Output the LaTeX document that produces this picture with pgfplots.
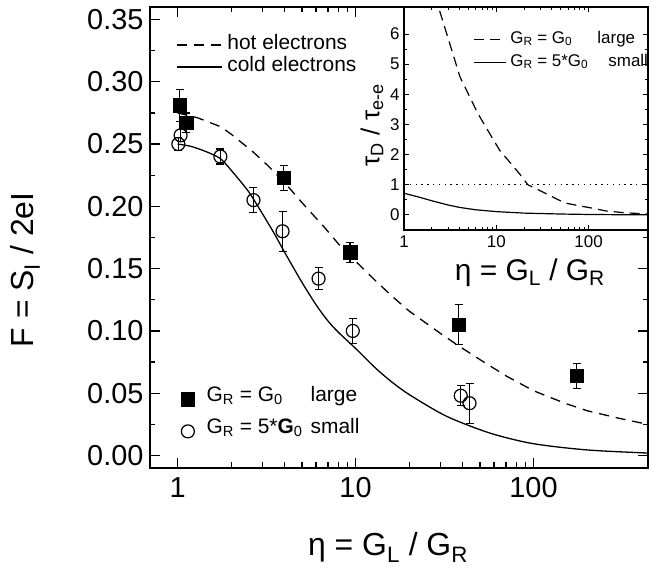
\documentclass[border=0pt]{standalone}
\usepackage{fontspec}
\setmainfont{Liberation Sans}
\usepackage{pgfplots}
\pgfplotsset{compat=1.18}

\newcommand{\fs}[1]{\fontsize{#1}{#1}\selectfont}

\begin{document}
\begin{tikzpicture}
% main axis: curves + data points
\begin{axis}[
    name=main,
    at={(0,0)}, anchor=south west,
    scale only axis,
    width=498bp, height=461bp,
    xmode=log,
    xmin=0.7, xmax=440,
    ymin=-0.01, ymax=0.36,
    xtick={1,10,100}, xticklabels={1,10,100},
    ytick={0,0.05,0.10,0.15,0.20,0.25,0.30,0.35},
    yticklabels={0.00,0.05,0.10,0.15,0.20,0.25,0.30,0.35},
    minor y tick num=1,
    tick align=inside,
    major tick length=10bp, minor tick length=5.5bp,
    axis line style={line width=1.6bp},
    every tick/.style={line width=1.2bp, black},
    /pgf/number format/assume math mode=true,
    tick label style={font=\fs{29}},
    xticklabel style={yshift=-6bp},
    yticklabel style={xshift=-3bp},
    label style={font=\fs{32}},
    xlabel={η = G\textsubscript{L} / G\textsubscript{R}},
    ylabel={F = S\textsubscript{I} / 2eI},
    xlabel style={at={(axis description cs:0.478,-0.172)}, anchor=center},
    ylabel style={at={(axis description cs:-0.251,0.43)}, anchor=center},
    legend style={draw=none, fill=none, at={(axis description cs:0.052,0.942)},
        anchor=north west, inner sep=0pt, font=\fs{21},
        nodes={inner xsep=0pt, inner ysep=1.5bp, text height=14.5bp, text depth=4.5bp},
        /tikz/every odd column/.append style={column sep=5bp}},
    legend cell align=left,
    legend image code/.code={\draw[#1] (0bp,0bp) -- (45bp,0bp);},
]
\addplot[black, line width=1.3bp, dash pattern=on 10bp off 7bp] coordinates {
    (1,0.275) (1.3,0.271) (1.74,0.264) (2,0.258) (2.64,0.244) (3.2,0.233)
    (4,0.219) (5,0.203) (6.7,0.183) (8,0.170) (10,0.156) (12.8,0.141)
    (16,0.128) (20,0.116) (30,0.098) (38,0.088) (50,0.077) (70,0.064)
    (100,0.052) (150,0.042) (200,0.036) (300,0.030) (440,0.025)
};
\addlegendentry{hot electrons}
\addplot[black, line width=1.3bp, smooth] coordinates {
    (1,0.250) (1.2,0.248) (1.5,0.243) (1.75,0.238) (2,0.229) (2.5,0.212)
    (3,0.194) (3.5,0.178) (4,0.163) (5,0.139) (6,0.121) (7,0.108)
    (8,0.099) (10,0.086) (13,0.070) (16,0.059) (20,0.049) (30,0.034)
    (40,0.026) (60,0.017) (100,0.0095) (200,0.0045) (440,0.002)
};
\addlegendentry{cold electrons}
% G_R = G_0 (large)
\addplot[forget plot, only marks, black, mark=square*, mark size=6.8bp,
    error bars/.cd, y dir=both, y explicit,
    error bar style={line width=1.2bp, black},
    error mark options={black, line width=1.2bp, mark size=4bp, rotate=90}]
    coordinates {
    (1.03,0.281) +- (0,0.013)
    (1.12,0.267) +- (0,0.008)
    (3.94,0.223) +- (0,0.010)
    (9.3,0.163) +- (0,0.008)
    (38,0.105) +- (0,0.016)
    (175,0.064) +- (0,0.010)
};
% G_R = 5 G_0 (small)
\addplot[forget plot, only marks, black, mark=o, mark size=6.5bp,
    mark options={fill=white, line width=1.2bp},
    error bars/.cd, y dir=both, y explicit,
    error bar style={line width=1.2bp, black},
    error mark options={black, line width=1.2bp, mark size=4bp, rotate=90}]
    coordinates {
    (1.01,0.250) +- (0,0.005)
    (1.04,0.257) +- (0,0.005)
    (1.74,0.240) +- (0,0.006)
    (2.67,0.205) +- (0,0.010)
    (3.89,0.180) +- (0,0.016)
    (6.2,0.142) +- (0,0.009)
    (9.65,0.100) +- (0,0.010)
    (39,0.048) +- (0,0.008)
    (43.7,0.042) +- (0,0.016)
};
\end{axis}

% second legend for the data points
\begin{axis}[
    at={(0,0)}, anchor=south west,
    scale only axis,
    width=498bp, height=461bp,
    xmode=log, xmin=0.7, xmax=440, ymin=-0.01, ymax=0.36,
    hide axis,
    legend style={draw=none, fill=none, at={(axis description cs:0.062,0.184)},
        anchor=north west, inner sep=0pt, font=\fs{21},
        nodes={inner xsep=0pt, inner ysep=3bp, text height=15bp, text depth=11bp},
        /tikz/every odd column/.append style={column sep=12bp}},
    legend cell align=left,
    legend image code/.code={\draw[mark repeat=2,mark phase=2,#1]
        plot coordinates {(0bp,0bp) (7bp,0bp) (14bp,0bp)};},
]
\addlegendimage{only marks, black, mark=square*, mark size=6.8bp}
\addlegendentry{\makebox[104bp][l]{G\textsubscript{R} = G\textsubscript{0}}large}
\addlegendimage{only marks, black, mark=o, mark size=6.5bp, mark options={fill=white, line width=1.2bp}}
\addlegendentry{\makebox[104bp][l]{G\textsubscript{R} = 5*\textbf{G}\textsubscript{0}}small}
\end{axis}

% inset
\begin{axis}[
    name=inset,
    at={(main.north east)}, anchor=north east,
    scale only axis,
    width=244bp, height=223bp,
    axis background/.style={fill=white},
    xmode=log,
    xmin=1, xmax=440,
    ymin=-0.5, ymax=6.9,
    xtick={1,10,100}, xticklabels={1,10,100},
    ytick={0,1,2,3,4,5,6},
    minor y tick num=1,
    tick align=inside,
    major tick length=5bp, minor tick length=3bp,
    axis line style={line width=1.3bp},
    every tick/.style={line width=1bp, black},
    /pgf/number format/assume math mode=true,
    tick label style={font=\fs{17}},
    xticklabel style={yshift=-2bp},
    yticklabel style={xshift=-1bp},
    label style={font=\fs{30}},
    xlabel={η = G\textsubscript{L} / G\textsubscript{R}},
    ylabel={τ\textsubscript{D} / τ\textsubscript{e-e}},
    xlabel style={at={(axis description cs:0.516,-0.19)}, anchor=center},
    ylabel style={at={(axis description cs:-0.131,0.47)}, anchor=center, font=\fs{26}},
    legend style={draw=none, fill=none, at={(axis description cs:0.283,0.905)},
        anchor=north west, inner sep=0pt, font=\fs{17},
        nodes={inner xsep=0pt, inner ysep=2bp, text height=13bp, text depth=6bp},
        /tikz/every odd column/.append style={column sep=4bp}},
    legend cell align=left,
    legend image code/.code={\draw[#1] (0bp,0bp) -- (32bp,0bp);},
]
\addplot[black, line width=1.2bp, dash pattern=on 10bp off 6bp] coordinates {
    (2,7.8) (2.35,6.92) (3,5.87) (4.03,4.59) (5,4.0) (6.3,3.37) (8,2.83)
    (10.9,2.14) (14,1.75) (17.9,1.36) (22,1.0) (30,0.80) (40,0.61)
    (48.6,0.48) (57,0.39) (80,0.30) (112,0.22) (155,0.13) (250,0.07) (440,0.03)
};
\addlegendentry{\makebox[87bp][l]{G\textsubscript{R} = G\textsubscript{0}}large}
\addplot[black, line width=1.2bp] coordinates {
    (1,0.72) (1.5,0.58) (2,0.47) (3,0.33) (4,0.25) (6,0.17) (10,0.11)
    (20,0.06) (50,0.03) (100,0.015) (200,0.008) (440,0.004)
};
\addlegendentry{\makebox[98bp][l]{G\textsubscript{R} = 5*G\textsubscript{0}}small}
\addplot[forget plot, black, line width=1.2bp, dash pattern=on 1.3bp off 4.5bp]
    coordinates {(1,1) (440,1)};
\end{axis}

\pgfresetboundingbox
\path[use as bounding box] ([xshift=-150bp,yshift=-104bp]main.south west)
    rectangle ([xshift=1bp,yshift=7bp]main.north east);
\end{tikzpicture}
\end{document}
